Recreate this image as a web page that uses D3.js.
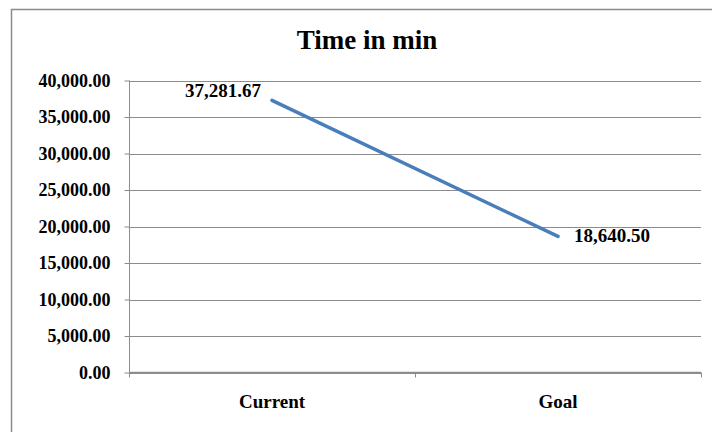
<!DOCTYPE html>
<html>
<head>
<meta charset="utf-8">
<script src="https://cdn.jsdelivr.net/npm/d3@7"></script>
<style>
  html, body { margin: 0; padding: 0; background: #fff; }
  svg text { font-family: "Liberation Serif", "Times New Roman", serif; font-weight: bold; fill: #000; }
</style>
</head>
<body>
<svg id="chart" width="712" height="432"></svg>
<script>
"use strict";

//Chart data
var categories = ["Current", "Goal"];
var values = [37281.67, 18640.50];
var yTicks = [0, 5000, 10000, 15000, 20000, 25000, 30000, 35000, 40000];
var title = "Time in min";

var svg = d3.select("#chart");

//Outer chart frame (runs off the picture at right and bottom)
svg.append("rect")
  .attr("x", 11.5).attr("y", 9.5)
  .attr("width", 720).attr("height", 440)
  .attr("fill", "#fff")
  .attr("stroke", "#8c8c8c")
  .attr("stroke-width", 1.5);

//Plot area
var plotLeft = 129, plotRight = 701, plotTop = 80.5, plotBottom = 372.5;

var x = d3.scaleBand().domain(categories).range([plotLeft, plotRight]).padding(0);
var y = d3.scaleLinear().domain([0, 40000]).range([plotBottom, plotTop]);

//Gridlines
svg.append("g")
  .selectAll("line")
  .data(yTicks)
  .enter().append("line")
  .attr("x1", plotLeft).attr("x2", plotRight)
  .attr("y1", function(d) { return Math.round(y(d)) + 0.5; })
  .attr("y2", function(d) { return Math.round(y(d)) + 0.5; })
  .attr("stroke", "#8c8c8c")
  .attr("stroke-width", 1);

//Y axis
var yAxis = svg.append("g")
  .attr("transform", "translate(" + (plotLeft + 0.5) + ",0)")
  .call(d3.axisLeft(y).tickValues(yTicks).tickFormat(d3.format(",.2f")).tickSize(5).tickPadding(14));

yAxis.select(".domain").attr("stroke", "#8c8c8c").attr("d", "M0," + plotTop + "V" + plotBottom);
yAxis.selectAll(".tick line").attr("stroke", "#8c8c8c");
yAxis.selectAll(".tick text")
  .attr("font-size", 18)
  .attr("font-family", null)
  .attr("fill", null);
yAxis.attr("font-size", null).attr("font-family", null);

//X axis line, ticks on band edges
var xAxis = svg.append("g");
xAxis.append("line")
  .attr("x1", plotLeft).attr("x2", plotRight)
  .attr("y1", plotBottom).attr("y2", plotBottom)
  .attr("stroke", "#8c8c8c").attr("stroke-width", 1.5);

var edges = categories.map(function(c) { return x(c); }).concat([x.range()[1]]);
xAxis.selectAll(".edge")
  .data(edges)
  .enter().append("line")
  .attr("class", "edge")
  .attr("x1", function(d) { return Math.round(d) + 0.5; })
  .attr("x2", function(d) { return Math.round(d) + 0.5; })
  .attr("y1", plotBottom).attr("y2", plotBottom + 5)
  .attr("stroke", "#8c8c8c");

xAxis.selectAll(".cat")
  .data(categories)
  .enter().append("text")
  .attr("class", "cat")
  .attr("x", function(d) { return x(d) + x.bandwidth() / 2; })
  .attr("y", plotBottom + 35)
  .attr("text-anchor", "middle")
  .attr("font-size", 19)
  .text(function(d) { return d; });

//Line
var pts = categories.map(function(c, i) { return {cat: c, value: values[i]}; });

var line = d3.line()
  .x(function(d) { return x(d.cat) + x.bandwidth() / 2; })
  .y(function(d) { return y(d.value); });

svg.append("path")
  .datum(pts)
  .attr("d", line)
  .attr("fill", "none")
  .attr("stroke", "#4a7ebb")
  .attr("stroke-width", 3.5)
  .attr("stroke-linecap", "round");

//Data labels (first on the left, last on the right)
var fmt = d3.format(",.2f");
svg.selectAll(".dlabel")
  .data(pts)
  .enter().append("text")
  .attr("class", "dlabel")
  .attr("x", function(d, i) { return x(d.cat) + x.bandwidth() / 2 + (i === 0 ? -11 : 16); })
  .attr("y", function(d, i) { return y(d.value) + (i === 0 ? -3 : 6); })
  .attr("text-anchor", function(d, i) { return i === 0 ? "end" : "start"; })
  .attr("font-size", 19)
  .text(function(d) { return fmt(d.value); });

//Title
svg.append("text")
  .attr("x", 367)
  .attr("y", 49)
  .attr("text-anchor", "middle")
  .attr("font-size", 27)
  .text(title);
</script>
</body>
</html>
